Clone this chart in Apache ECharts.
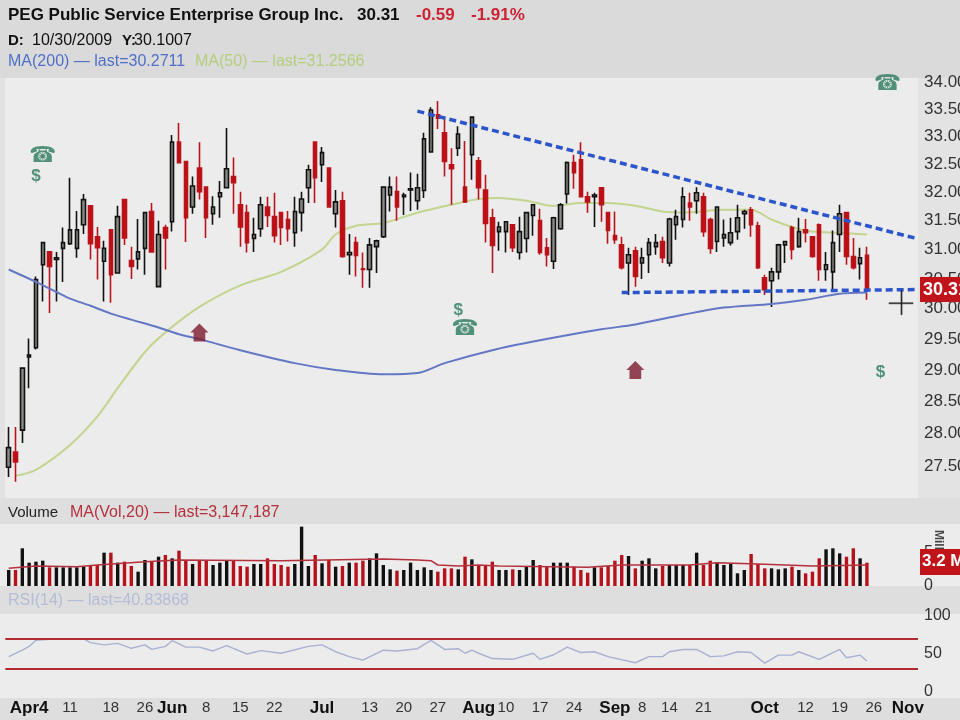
<!DOCTYPE html>
<html><head><meta charset="utf-8">
<style>html,body{margin:0;padding:0;background:#ebebeb}#c{width:960px;height:720px}</style>
<script src="https://cdn.jsdelivr.net/npm/echarts@6/dist/echarts.min.js"></script>
</head><body><div id="c"></div>
<script>
const opens=[27.48,27.71,28.05,29.21,29.36,30.74,30.96,30.83,31.02,31.10,31.02,31.43,31.76,31.22,30.80,31.34,30.60,31.87,30.81,30.84,31.02,31.66,30.37,31.38,31.48,32.90,32.55,31.74,32.43,32.09,31.62,31.92,32.08,32.28,31.78,31.64,31.19,31.36,31.74,31.57,31.64,31.52,31.29,31.64,32.08,32.90,32.49,32.43,31.62,31.85,30.91,31.12,30.67,30.66,31.05,31.22,31.95,32.01,31.92,32.04,31.85,32.03,32.72,33.40,33.07,32.49,32.79,32.09,32.67,32.56,32.04,31.55,31.31,31.31,31.43,30.95,31.19,31.59,31.50,31.03,30.80,31.36,31.97,32.53,32.58,31.92,31.92,32.08,31.64,31.24,31.08,30.77,30.98,30.77,30.91,31.05,31.14,30.77,31.43,31.52,31.81,31.85,31.92,31.52,31.14,31.20,31.12,31.31,31.62,31.69,31.41,30.52,30.47,30.62,31.08,31.38,31.05,31.34,31.22,31.43,30.66,30.62,31.26,31.64,30.88,30.76,30.90];
const closes=[27.78,27.56,29.03,29.24,30.49,31.12,30.71,30.86,31.12,31.34,31.34,31.87,31.10,31.03,31.02,30.57,31.57,31.20,30.71,30.96,31.64,30.96,31.26,31.20,32.90,32.53,31.55,32.11,32.01,31.55,31.74,31.99,32.42,32.17,31.39,31.12,31.26,31.78,31.59,31.24,31.38,31.36,31.66,31.88,32.40,32.26,32.71,31.74,31.83,30.88,30.95,30.90,30.66,31.08,31.15,32.09,32.09,31.74,31.95,32.06,32.08,32.96,33.49,33.34,32.55,32.42,33.05,31.83,33.36,32.08,31.45,31.07,31.39,31.48,31.03,31.31,31.64,31.78,30.95,30.91,31.55,31.78,32.53,32.35,31.92,31.83,31.95,31.78,31.33,31.17,30.69,30.91,30.54,30.86,31.12,31.12,30.86,31.53,31.57,31.92,31.74,31.99,31.31,31.02,31.74,31.26,31.29,31.55,31.66,31.43,30.69,30.32,30.62,31.08,31.14,31.00,31.31,31.29,30.88,30.66,30.74,31.12,31.62,30.88,30.69,30.86,30.31];
const lows=[27.33,27.26,27.85,28.71,29.33,30.12,29.93,30.12,30.45,31.08,30.86,31.27,30.83,30.49,30.12,30.10,30.60,31.08,30.50,30.66,30.57,30.96,30.37,30.66,31.31,32.53,31.13,31.62,31.87,31.20,31.43,31.55,32.08,31.62,31.05,30.95,30.96,31.22,31.39,31.12,31.08,31.14,31.05,31.31,31.81,31.81,32.18,31.73,31.38,30.86,30.57,30.54,30.35,30.35,30.60,31.20,31.66,31.50,31.60,31.67,31.69,31.90,32.72,33.14,32.28,31.78,32.65,31.81,32.22,31.87,31.12,30.60,30.98,30.95,30.96,30.83,30.95,31.24,30.91,30.71,30.67,31.34,31.80,32.06,31.92,31.64,31.39,31.48,31.10,31.10,30.66,30.23,30.37,30.50,30.60,30.91,30.77,30.71,31.17,31.38,31.50,31.62,31.22,30.93,30.96,31.05,31.07,31.17,31.36,31.22,30.67,30.23,30.03,30.49,30.77,30.83,31.03,31.12,30.86,30.47,30.47,30.32,30.96,30.74,30.66,30.49,30.15];
const highs=[28.10,28.10,29.03,29.51,30.54,31.12,30.80,30.96,31.38,32.26,31.67,31.97,31.76,31.39,31.15,31.34,31.76,31.87,31.05,31.53,31.64,31.81,31.50,31.43,33.03,33.25,32.55,32.28,32.90,32.09,31.93,32.20,33.16,32.62,32.01,31.78,31.55,31.92,31.92,31.99,31.64,31.67,31.92,32.01,32.49,32.90,32.81,32.43,32.04,32.01,31.27,31.22,30.95,31.20,31.17,32.09,32.28,32.28,31.99,32.35,32.33,33.07,33.54,33.66,33.34,32.79,33.19,32.92,33.36,32.63,32.31,31.71,31.48,31.48,31.43,31.57,31.64,31.78,31.71,31.20,31.57,31.81,32.55,32.67,32.90,32.01,31.99,32.08,31.64,31.66,31.22,31.03,31.05,31.03,31.20,31.27,31.22,31.55,31.69,32.09,31.99,32.09,31.99,31.55,31.74,31.52,31.55,31.78,31.69,31.74,31.48,30.57,30.69,31.10,31.15,31.41,31.55,31.53,31.22,31.45,30.96,31.33,31.78,31.64,31.20,31.03,31.05];
const volumes=[2.4,2.4,5.65,3.5,3.65,3.8,2.8,2.8,2.8,2.8,2.8,2.9,3.15,3.15,5.0,5.0,3.5,3.65,3.0,2.15,3.9,3.65,4.4,4.65,4.15,5.3,3.9,3.3,3.8,3.8,3.15,3.5,3.9,3.8,3.0,2.9,3.3,3.3,4.15,3.3,3.15,2.9,3.3,8.9,3.0,4.65,3.4,3.9,2.9,3.0,3.5,3.5,3.8,4.15,4.9,3.15,2.5,2.3,2.4,3.5,2.4,2.8,2.4,2.15,2.65,2.65,2.5,4.4,4.0,3.15,3.15,3.65,2.4,2.4,2.5,2.4,2.9,3.9,3.15,2.9,3.5,3.5,3.5,2.9,2.4,2.0,2.8,2.8,3.0,3.8,4.65,4.5,2.65,3.8,4.15,2.65,3.0,3.15,3.15,3.15,3.15,5.0,3.15,3.8,3.5,3.15,3.3,1.9,2.4,4.8,3.3,2.65,2.65,2.5,2.65,2.9,2.4,1.9,2.15,4.15,5.5,5.65,4.9,4.4,5.65,4.15,3.5];
const ma200Idx=[0,4,7,9,12,15,18,22,25,28,34,42,48,55,60,64,71,78,87,92,99,105,112,117,122,126];
const ma200Val=[30.66,30.45,30.28,30.17,30.05,29.92,29.82,29.69,29.58,29.50,29.32,29.11,29.00,28.93,28.95,29.11,29.32,29.48,29.66,29.74,29.90,30.02,30.08,30.15,30.25,30.27];
const ma50Idx=[1,4,9,13,16,20,23,28,34,40,46,48,51,55,60,65,69,72,76,80,84,88,92,96,99,105,109,112,115,118,122,126];
const ma50Val=[27.35,27.44,27.82,28.26,28.71,29.29,29.61,30.03,30.39,30.62,31.00,31.26,31.41,31.46,31.64,31.78,31.88,31.90,31.85,31.76,31.81,31.81,31.76,31.66,31.64,31.69,31.69,31.52,31.39,31.31,31.29,31.26];
const volMaIdx=[0,4,10,13,20,25,40,55,60,62,63,66,69,72,85,90,100,104,110,114,118,126];
const volMaVal=[2.65,3.0,2.9,3.15,3.65,3.9,3.8,4.05,3.9,3.8,3.15,3.0,3.15,3.0,2.8,3.15,3.15,3.5,3.3,3.15,3.0,3.147];
const rsiIdx=[0,2,3,4,7,9,11,12,14,16,18,20,21,23,24,26,28,30,32,35,37,40,44,46,48,50,52,55,57,60,62,64,66,67,68,69,71,74,77,78,80,82,84,86,88,92,94,96,97,99,101,103,105,107,109,111,113,115,116,119,122,123,125,126];
const rsiVal=[46.5,55,60,68,70,70,70,65,62,64,57.5,62,56,60,67.5,59,59,54,61,50,54.5,51,60,62,53,46.5,42,55,54,57,68,56,57,51,55,51,44,43,51,43,49,59,52,53,46.5,38.5,46.5,46.5,53,56,56,46.5,47.5,53,52,38,48.5,48.5,53,43,56,45,48.5,40.84];
const upperTrendIdx=[60,133], upperTrendVal=[33.47,31.20];
const lowerTrendIdx=[90,133], lowerTrendVal=[30.27,30.32];
const priceTicks=[27.5,28,28.5,29,29.5,30,30.5,31,31.5,32,32.5,33,33.5,34];
const volumeTicks=[0,5];
const rsiBands=[70,30];
const xTickIdx=[3,9,15,20,24,29,34,39,46,53,58,63,69,73,78,83,89,93,97,102,111,117,122,127,132];
const xTickLabels=['Apr4','11','18','26','Jun','8','15','22','Jul','13','20','27','Aug','10','17','24','Sep','8','14','21','Oct','12','19','26','Nov'];
const xTickBold=['Apr4','Jun','Jul','Aug','Sep','Oct','Nov'];
const phoneIdx=[5,129,67], phoneVal=[32.64,33.98,29.66];
const dollarIdx=[4,66,128], dollarVal=[32.28,29.98,28.97];
const arrowIdx=[28,92], arrowVal=[29.61,29.0];
const cursorIdx=131, cursorVal=30.1007;
const lastPriceTag='30.31', lastVolumeTag='3.2 M';

const N=134;
const cats=Array.from({length:N},(_,i)=>{const k=xTickIdx.indexOf(i);return k>=0?xTickLabels[k]:'';});
const zip=(a,b)=>a.map((v,i)=>[v,b[i]]);
const FONT='"Liberation Sans","DejaVu Sans",sans-serif';
const RED='#c00d12',BLK='#111111';
const candle=opens.map((o,i)=>[o,closes[i],lows[i],highs[i]]);
const volBars=volumes.map((v,i)=>({value:v,itemStyle:{color:closes[i]>=opens[i]?BLK:'#b5121b'}}));
const chart=echarts.init(document.getElementById('c'),null,{renderer:'canvas'});
const hiddenX=i=>({type:'category',gridIndex:i,data:cats,boundaryGap:true,axisLine:{show:false},axisTick:{show:false},axisLabel:{show:false},splitLine:{show:false}});
const axisTxt={color:'#333',fontFamily:FONT,fontSize:16,margin:6,padding:[2,0,0,0]};
function band(y,h,c){return {type:'rect',silent:true,z:-10,shape:{x:0,y:y,width:960,height:h},style:{fill:c}};}
function txt(x,y,t,c,w,s){return {type:'text',silent:true,z:50,x:x,y:y,style:{text:t,fill:c,font:(w||'normal')+' '+(s||16)+'px '+FONT}};}
chart.setOption({
 animation:false,backgroundColor:'#ebebeb',
 graphic:[
  band(0,78,'#dadada'),band(78,420,'#ececec'),band(498,26,'#dedede'),band(524,62,'#ececec'),band(586,28,'#dedede'),band(614,84,'#ececec'),band(698,22,'#dedede'),
  {type:'rect',silent:true,z:-9,shape:{x:918,y:78,width:42,height:420},style:{fill:'#e3e3e3'}},
  {type:'rect',silent:true,z:-9,shape:{x:0,y:78,width:5,height:420},style:{fill:'#e2e2e2'}},
  txt(8,7,'PEG Public Service Enterprise Group Inc.','#111','bold',17),
  txt(357,7,'30.31','#111','bold',17),
  txt(416,7,'-0.59','#cc2233','bold',17),
  txt(471,7,'-1.91%','#cc2233','bold',17),
  txt(8,33,'D:','#111','bold',15),txt(32,33,'10/30/2009','#111','normal',16),txt(122,33,'Y:','#111','bold',15),txt(134,33,'30.1007','#111','normal',16),
  txt(8,54,'MA(200) — last=30.2711','#4f6fc9','normal',16),
  txt(195,54,'MA(50) — last=31.2566','#b4cf7c','normal',16),
  txt(8,505,'Volume','#222','normal',15),
  txt(70,505,'MA(Vol,20) — last=3,147,187','#b5303c','normal',16),
  txt(8,593,'RSI(14) — last=40.83868','#b4bcd8','normal',16),
  {type:'text',silent:true,z:40,x:944,y:530,rotation:-Math.PI/2,style:{text:'Millions',fill:'#444',font:'bold 12px '+FONT}},
  {type:'rect',silent:true,z:60,shape:{x:920,y:277,width:40,height:25},style:{fill:'#c1141a'}},
  {type:'text',silent:true,z:61,x:923,y:281,style:{text:lastPriceTag,fill:'#fff',font:'bold 18px '+FONT}},
  {type:'rect',silent:true,z:60,shape:{x:920,y:549,width:40,height:26},style:{fill:'#c1141a'}},
  {type:'text',silent:true,z:61,x:922,y:553,style:{text:lastVolumeTag,fill:'#fff',font:'bold 17px '+FONT}}
 ],
 grid:[
  {left:5.3,right:42,top:78,height:419,outerBoundsMode:'none'},
  {left:5.3,right:42,top:524,height:62,outerBoundsMode:'none'},
  {left:5.3,right:42,top:616,height:76,outerBoundsMode:'none'}
 ],
 xAxis:[hiddenX(0),hiddenX(1),
  {type:'category',gridIndex:2,data:cats,boundaryGap:true,axisLine:{show:false},axisTick:{show:false},splitLine:{show:false},
   axisLabel:{show:true,interval:0,hideOverlap:false,margin:8,color:'#333',fontFamily:FONT,fontSize:15,
    formatter:v=>v?(xTickBold.includes(v)?'{b|'+v+'}':v):'',rich:{b:{fontWeight:'bold',color:'#111',fontSize:17,fontFamily:FONT}}}}],
 yAxis:[
  {type:'log',logBase:Math.E,gridIndex:0,position:'right',min:27.03,max:34.09,axisLine:{show:false},splitLine:{show:false},axisTick:{show:false},
   axisLabel:Object.assign({},axisTxt,{fontSize:17,margin:6,customValues:priceTicks,formatter:v=>Number(v).toFixed(2)})},
  {type:'value',gridIndex:1,position:'right',min:0,max:9.3,axisLine:{show:false},splitLine:{show:false},axisTick:{show:false},
   axisLabel:Object.assign({},axisTxt,{customValues:volumeTicks,formatter:v=>String(v)})},
  {type:'value',gridIndex:2,position:'right',min:0,max:100,interval:50,axisLine:{show:false},splitLine:{show:false},axisTick:{show:false},
   axisLabel:axisTxt}
 ],
 series:[
  {name:'PEG',type:'candlestick',xAxisIndex:0,yAxisIndex:0,data:candle,barWidth:4,z:3,
   itemStyle:{color:'#8a8a84',color0:RED,borderColor:BLK,borderColor0:'#b8141c',borderWidth:1.6}},
  {name:'MA200',type:'line',xAxisIndex:0,yAxisIndex:0,data:zip(ma200Idx,ma200Val),symbol:'none',smooth:0.3,z:4,lineStyle:{color:'#6477c4',width:2}},
  {name:'MA50',type:'line',xAxisIndex:0,yAxisIndex:0,data:zip(ma50Idx,ma50Val),symbol:'none',smooth:0.3,z:2,lineStyle:{color:'#c3d48e',width:2}},
  {name:'upper',type:'line',xAxisIndex:0,yAxisIndex:0,data:zip(upperTrendIdx,upperTrendVal),symbol:'none',z:5,lineStyle:{color:'#2c55cc',width:3.5,type:[7,4]}},
  {name:'lower',type:'line',xAxisIndex:0,yAxisIndex:0,data:zip(lowerTrendIdx,lowerTrendVal),symbol:'none',z:5,lineStyle:{color:'#2c55cc',width:3.5,type:[7,4]}},
  {name:'phone',type:'scatter',xAxisIndex:0,yAxisIndex:0,data:zip(phoneIdx,phoneVal),symbolSize:1,itemStyle:{color:'transparent'},z:6,
   label:{show:true,position:'inside',formatter:'☎',color:'#2a7a5c',fontSize:22,fontFamily:'"DejaVu Sans"'}},
  {name:'dollar',type:'scatter',xAxisIndex:0,yAxisIndex:0,data:zip(dollarIdx,dollarVal),symbolSize:1,itemStyle:{color:'transparent'},z:6,
   label:{show:true,position:'inside',formatter:'$',color:'#2a7a5c',fontSize:17,fontWeight:'bold',fontFamily:FONT}},
  {name:'arrow',type:'scatter',xAxisIndex:0,yAxisIndex:0,data:zip(arrowIdx,arrowVal),symbol:'path://M10 0L20 10H16.5V20H3.5V10H0Z',symbolSize:[18,18],itemStyle:{color:'#7d1a2e'},z:6},
  {name:'cursor',type:'scatter',xAxisIndex:0,yAxisIndex:0,data:[[cursorIdx,cursorVal]],symbol:'path://M0 11H22V12H0ZM11 0H12V22H11Z',symbolSize:[24,24],itemStyle:{color:'#111',borderColor:'#111',borderWidth:0.6},z:7},
  {name:'Volume',type:'bar',xAxisIndex:1,yAxisIndex:1,data:volBars,barWidth:3.4,z:2},
  {name:'VolMA',type:'line',xAxisIndex:1,yAxisIndex:1,data:zip(volMaIdx,volMaVal),symbol:'none',z:3,lineStyle:{color:'#b5303c',width:1.5}},
  {name:'RSI',type:'line',xAxisIndex:2,yAxisIndex:2,data:zip(rsiIdx,rsiVal),symbol:'none',z:3,lineStyle:{color:'#a9b1d2',width:1.4},
   markLine:{silent:true,symbol:'none',label:{show:false},lineStyle:{color:'#b22a30',width:2,type:'solid'},data:rsiBands.map(v=>({yAxis:v}))}}
 ]
});
</script></body></html>
